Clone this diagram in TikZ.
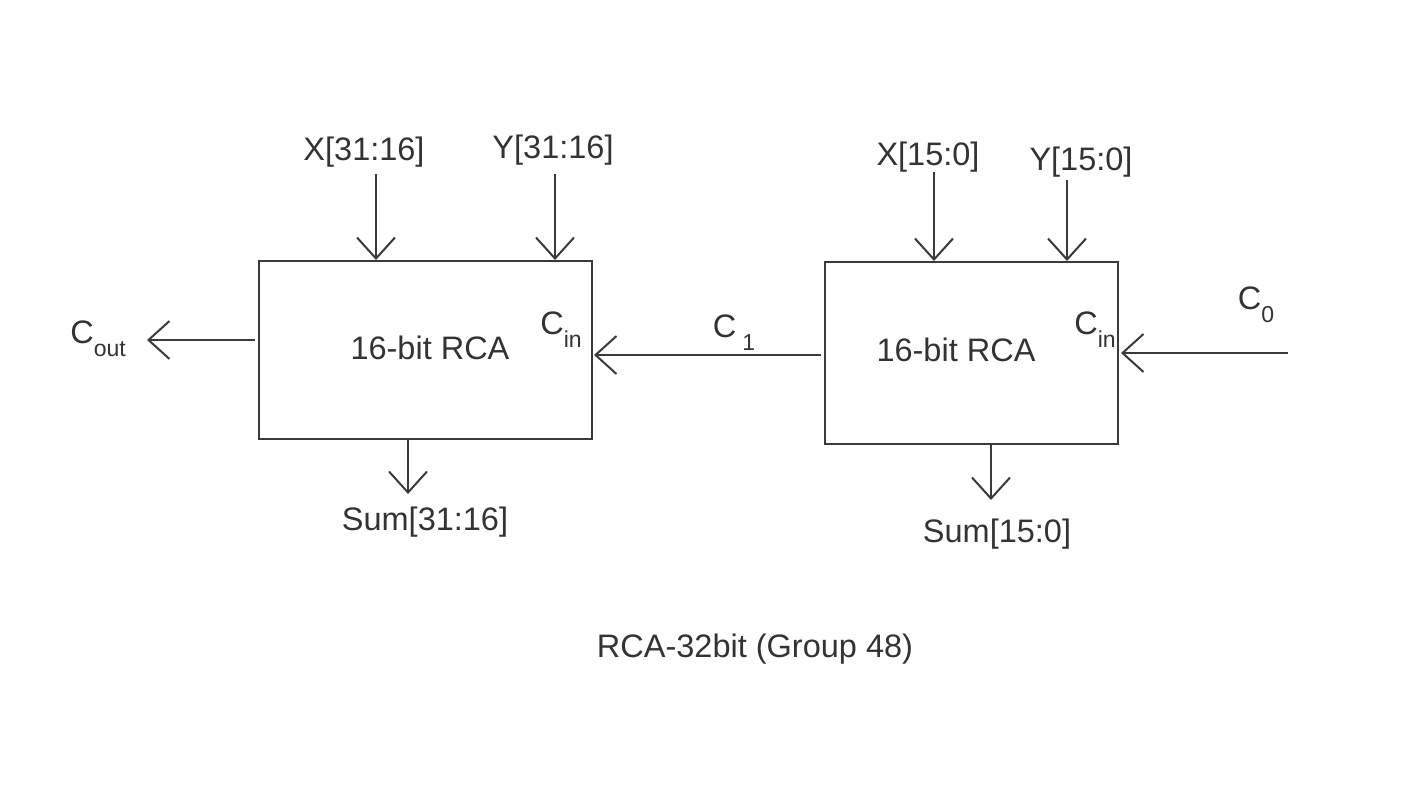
\documentclass[tikz,border=0pt]{standalone}
\usepackage{fontspec}
\setmainfont{Liberation Sans}
\usetikzlibrary{arrows.meta}
\definecolor{ink}{HTML}{3A3A3A}
\definecolor{txt}{HTML}{333333}
\newcommand{\sub}[1]{\raisebox{-0.75ex}{\fontsize{23}{26}\selectfont #1}}
\begin{document}
\begin{tikzpicture}[x=1pt,y=-1pt,
  lbl/.style={text=txt,font=\fontsize{32.5}{36}\selectfont,inner sep=0pt},
  block/.style={draw=ink,line width=2pt,minimum width=#1,inner sep=0pt},
  arr/.style={draw=ink,line width=2pt,-{Straight Barb[length=21pt,width=38pt,line width=2pt]}}]
\useasboundingbox[fill=white] (0,0) rectangle (1422,800);

% adder blocks
\node[block=333pt,minimum height=178pt] (b1) at (425.5,350) {};
\node[block=293pt,minimum height=182pt] (b2) at (971.5,353) {};

\node[lbl] (t1) at (430,348) {16-bit RCA};
\node[lbl] (t2) at (956,350) {16-bit RCA};
\node[lbl] (ci1) at (561,330) {C\sub{in}};
\node[lbl] (ci2) at (1095,330) {C\sub{in}};

% operand inputs
\node[lbl] (x1) at (364,152) {X[31:16]};
\node[lbl] (y1) at (553,150) {Y[31:16]};
\node[lbl] (x2) at (928,157) {X[15:0]};
\node[lbl] (y2) at (1081,162) {Y[15:0]};
\coordinate (x1s) at (376,174);
\coordinate (y1s) at (555,174);
\coordinate (x2s) at (934,172);
\coordinate (y2s) at (1067,180);
\draw[arr] (x1s) -- (x1s |- b1.north);
\draw[arr] (y1s) -- (y1s |- b1.north);
\draw[arr] (x2s) -- (x2s |- b2.north);
\draw[arr] (y2s) -- (y2s |- b2.north);

% carries
\node[lbl] (co) at (98,339) {C\sub{out}};
\coordinate (cout) at (147,340);
\draw[arr] ([xshift=-3pt]b1.west |- cout) -- (cout);

\node[lbl] (c1) at (734,333) {C\hspace{6pt}\sub{1}};
\coordinate (c1r) at (594,355);
\draw[arr] ([xshift=-3pt]b2.west |- c1r) -- (c1r);

\node[lbl] (c0l) at (1256,305) {C\sub{0}};
\coordinate (c0) at (1288,353);
\draw[arr] (c0) -- ([xshift=2pt]b2.east |- c0);

% sum outputs
\coordinate (s1) at (408,494);
\coordinate (s2) at (991,500);
\draw[arr] (s1 |- b1.south) -- (s1);
\draw[arr] (s2 |- b2.south) -- (s2);
\node[lbl] (sum1) at (425,522) {Sum[31:16]};
\node[lbl] (sum2) at (997,534) {Sum[15:0]};

\node[lbl] (title) at (755,649) {RCA-32bit (Group 48)};
\end{tikzpicture}
\end{document}
